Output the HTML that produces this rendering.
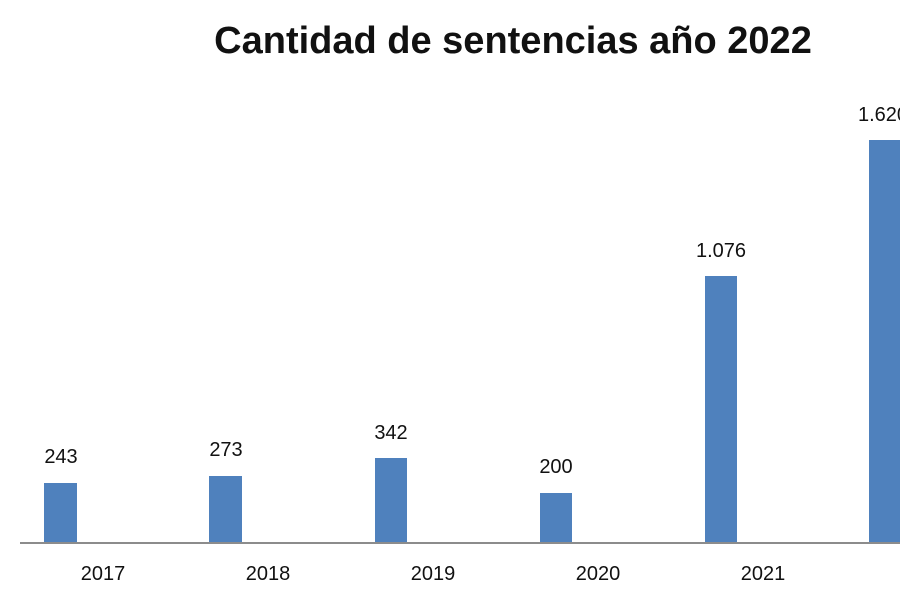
<!DOCTYPE html>
<html><head><style>
body{margin:0;background:#fff;width:900px;height:600px;overflow:hidden;position:relative;font-family:"Liberation Sans",sans-serif;}
.t{position:absolute;white-space:nowrap;color:#111;}
.b{position:absolute;background:#4f81bd;}
</style></head><body>
<div class="t" style="left:0;width:1026px;text-align:center;top:20px;font-size:38px;font-weight:bold;">Cantidad de sentencias año 2022</div>
<div style="position:absolute;left:20px;top:542px;width:880px;height:2px;background:#8c8c8c;"></div>
<div class="b" style="left:44px;top:483px;width:33px;height:59px"></div>
<div class="b" style="left:209px;top:476px;width:33px;height:66px"></div>
<div class="b" style="left:375px;top:458px;width:32px;height:84px"></div>
<div class="b" style="left:540px;top:493px;width:32px;height:49px"></div>
<div class="b" style="left:705px;top:276px;width:32px;height:266px"></div>
<div class="b" style="left:869px;top:140px;width:31px;height:402px"></div>
<div class="t" style="left:11px;width:100px;text-align:center;top:446px;font-size:20px">243</div>
<div class="t" style="left:176px;width:100px;text-align:center;top:439px;font-size:20px">273</div>
<div class="t" style="left:341px;width:100px;text-align:center;top:422px;font-size:20px">342</div>
<div class="t" style="left:506px;width:100px;text-align:center;top:456px;font-size:20px">200</div>
<div class="t" style="left:671px;width:100px;text-align:center;top:240px;font-size:20px">1.076</div>
<div class="t" style="left:858px;top:104px;font-size:20px">1.620</div>
<div class="t" style="left:53px;width:100px;text-align:center;top:563px;font-size:20px">2017</div>
<div class="t" style="left:218px;width:100px;text-align:center;top:563px;font-size:20px">2018</div>
<div class="t" style="left:383px;width:100px;text-align:center;top:563px;font-size:20px">2019</div>
<div class="t" style="left:548px;width:100px;text-align:center;top:563px;font-size:20px">2020</div>
<div class="t" style="left:713px;width:100px;text-align:center;top:563px;font-size:20px">2021</div>
</body></html>
